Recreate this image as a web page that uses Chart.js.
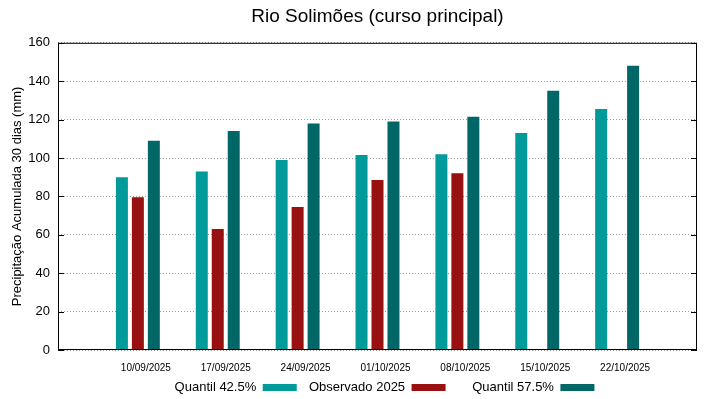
<!DOCTYPE html>
<html>
<head>
<meta charset="utf-8">
<script src="https://cdn.jsdelivr.net/npm/chart.js@4.4.0/dist/chart.umd.min.js"></script>
<style>
  html, body { margin: 0; padding: 0; background: #fff; }
  #wrap { width: 719px; height: 399px; }
</style>
</head>
<body>
<div id="wrap"><canvas id="chuva" width="719" height="399"></canvas></div>
<script>
// semanas (com categorias vazias nas pontas para o espaçamento)
const semanas = ['', '10/09/2025', '17/09/2025', '24/09/2025', '01/10/2025', '08/10/2025', '15/10/2025', '22/10/2025', ''];
const quantil425 = [null, 90, 93, 99, 101.5, 102, 113, 125.5, null];
const observado2025 = [null, 79.5, 63, 74.5, 88.5, 92, null, null, null];
const quantil575 = [null, 109, 114, 118, 119, 121.5, 135, 148, null];
const yTicks = [0, 20, 40, 60, 80, 100, 120, 140, 160];

// espaço extra antes de cada item da legenda (gnuplot espaça diferente)
const legendGap = ['', '  ', '      '];

// moldura preta + marcas de tick para dentro (estilo gnuplot)
const moldura = {
    id: 'moldura',
    afterLayout(chart) {
        chart.legend.left += 7;
        chart.legend.right += 7;
    },
    afterDraw(chart) {
        const { ctx, chartArea: a, scales } = chart;
        ctx.save();
        ctx.strokeStyle = '#000';
        ctx.lineWidth = 1;
        ctx.strokeRect(a.left + 0.5, a.top + 0.5, a.right - a.left - 1, a.bottom - a.top - 1);
        ctx.beginPath();
        yTicks.forEach(v => {
            const y = Math.round(scales.y.getPixelForValue(v)) + 0.5;
            ctx.moveTo(a.left, y); ctx.lineTo(a.left + 6, y);
            ctx.moveTo(a.right, y); ctx.lineTo(a.right - 6, y);
        });
        ctx.stroke();
        ctx.restore();
    }
};

const barra = { categoryPercentage: 0.6, barPercentage: 0.75, borderWidth: 0 };
const fonte = 'Liberation Sans, Arial, sans-serif';

new Chart(document.getElementById('chuva'), {
    type: 'bar',
    data: {
        labels: semanas,
        datasets: [
            { ...barra, label: 'Quantil 42.5%', data: quantil425, backgroundColor: '#009a9a' },
            { ...barra, label: 'Observado 2025', data: observado2025, backgroundColor: '#991010' },
            { ...barra, label: 'Quantil 57.5%', data: quantil575, backgroundColor: '#006666' }
        ]
    },
    plugins: [moldura],
    options: {
        responsive: false,
        animation: false,
        layout: { padding: { left: 0, right: 22, top: 0, bottom: -5 } },
        plugins: {
            title: {
                display: true,
                fullSize: false,
                text: 'Rio Solimões (curso principal)',
                color: '#000',
                font: { family: fonte, size: 19, weight: 'normal' },
                padding: { top: 5, bottom: 15 }
            },
            legend: {
                position: 'bottom',
                fullSize: false,
                rtl: true,
                reverse: true,
                textDirection: 'ltr',
                labels: {
                    color: '#000',
                    boxWidth: 34,
                    boxHeight: 7,
                    padding: 5,
                    font: { family: fonte, size: 13 },
                    generateLabels(chart) {
                        const items = Chart.defaults.plugins.legend.labels.generateLabels(chart);
                        items.forEach(it => { it.text = legendGap[it.datasetIndex] + it.text; });
                        return items;
                    }
                }
            },
            tooltip: { enabled: false }
        },
        scales: {
            x: {
                offset: false,
                grid: { display: false, drawTicks: false },
                border: { display: false },
                ticks: {
                    color: '#000',
                    autoSkip: false,
                    maxRotation: 0,
                    padding: 12,
                    labelOffset: 8,
                    font: { family: fonte, size: 10 }
                },
                afterFit(scale) { scale.height = 26; }
            },
            y: {
                min: 0,
                max: 160,
                grid: { color: '#9a9a9a', drawTicks: false },
                border: { display: false, dash: [1, 2] },
                title: {
                    display: true,
                    text: 'Precipitação Acumulada 30 dias (mm)',
                    color: '#000',
                    padding: { top: 10, bottom: 2 },
                    font: { family: fonte, size: 13 }
                },
                ticks: {
                    stepSize: 20,
                    color: '#000',
                    padding: 8,
                    font: { family: fonte, size: 13 }
                },
                afterFit(scale) { scale.width = 58; }
            }
        }
    }
});
</script>
</body>
</html>
